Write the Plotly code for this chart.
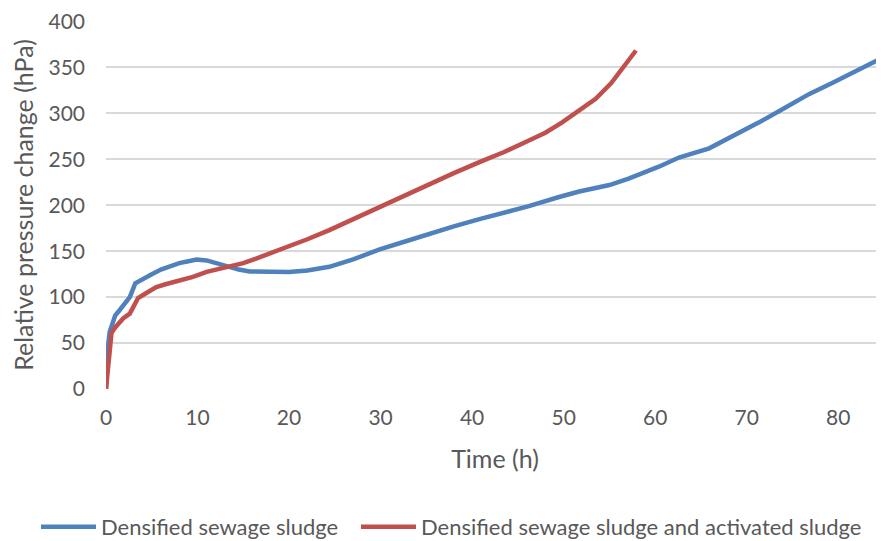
import plotly.graph_objects as go

# Densified sewage sludge (blue)
t_blue = [0, 0.2, 0.4, 0.7, 1.0, 1.5, 2.0, 2.6, 3.2, 4.0, 5.0, 6.0, 7.0, 8.0, 9.0, 9.9,
          11.0, 11.7, 12.5, 13.5, 14.5, 15.7, 17.0, 18.5, 20.0, 22.0, 24.4, 27.0, 29.9,
          32.5, 35.3, 38.0, 40.8, 43.5, 46.2, 49.5, 51.7, 55.0, 57.1, 60.4, 62.6, 65.9,
          68.5, 71.3, 74.0, 76.8, 79.5, 82.2, 84.7, 85.0]
p_blue = [0, 45, 62, 72, 80, 86, 92, 100, 115, 120, 125, 130, 134, 137, 139, 141,
          140, 138, 135, 132, 130, 128, 128, 127, 127.5, 129, 133, 141, 152,
          160, 169, 177, 185, 192, 199, 209, 215, 222, 229, 242, 252, 262,
          275, 290, 305, 321, 334, 347, 360, 362]

# Densified sewage sludge and activated sludge (red)
t_red = [0, 0.2, 0.4, 0.6, 1.0, 1.9, 2.6, 3.5, 4.5, 5.5, 6.5, 8.0, 9.5, 11.0, 12.2,
         13.5, 15.0, 16.4, 18.0, 20.0, 22.0, 24.4, 27.0, 29.9, 32.5, 35.3, 38.0, 40.8,
         43.5, 46.2, 48.0, 49.8, 51.5, 53.5, 55.2, 56.8, 57.9]
p_red = [0, 25, 50, 61, 67, 77, 82, 99, 105, 111, 114, 118, 122, 127.5, 130,
         133, 137, 142, 148, 155, 163, 173, 185, 198, 210, 223.5, 235, 247,
         258, 270.6, 279, 290, 302, 316, 333, 354, 368.5]

series_names = ["Densified sewage sludge", "Densified sewage sludge and activated sludge"]
x_ticks = [0, 10, 20, 30, 40, 50, 60, 70, 80]
y_ticks = [0, 50, 100, 150, 200, 250, 300, 350, 400]

font_family = "Lato, 'Open Sans', sans-serif"
text_color = "#595959"
fs = 21
lfs = 22

fig = go.Figure()
fig.add_trace(go.Scatter(x=t_blue, y=p_blue, mode="lines", name=series_names[0],
                         line=dict(color="#4F81BD", width=4.5), legend="legend"))
fig.add_trace(go.Scatter(x=t_red, y=p_red, mode="lines", name=series_names[1],
                         line=dict(color="#C0504D", width=4.5), legend="legend2"))

fig.update_layout(
    width=884, height=541,
    paper_bgcolor="white", plot_bgcolor="white",
    margin=dict(l=98, r=8, t=13, b=160, autoexpand=False),
    font=dict(family=font_family, size=fs, color=text_color),
    showlegend=True,
    legend=dict(orientation="h", x=-0.09, xanchor="left", y=-0.375, yanchor="middle",
                font=dict(size=lfs, color=text_color), itemwidth=55),
    legend2=dict(orientation="h", x=0.3213, xanchor="left", y=-0.375, yanchor="middle",
                 font=dict(size=lfs, color=text_color), itemwidth=55),
)
fig.update_xaxes(
    range=[0, 85], tickvals=x_ticks, showgrid=False, zeroline=False,
    showline=False, ticks="", automargin=False, ticklabelstandoff=14,
    ticklabeloverflow="allow",
    title=dict(text="Time (h)", standoff=22),
    tickfont=dict(size=fs, color=text_color),
)
fig.update_yaxes(
    range=[0, 400.6], tickvals=y_ticks, showgrid=True, gridcolor="#D9D9D9", gridwidth=1.5,
    zeroline=False, showline=False, ticks="", automargin=False, ticklabelstandoff=20,
    ticklabeloverflow="allow",
    title=dict(text="Relative pressure change (hPa)", standoff=9),
    tickfont=dict(size=fs, color=text_color),
)

fig.write_html("out.html")
